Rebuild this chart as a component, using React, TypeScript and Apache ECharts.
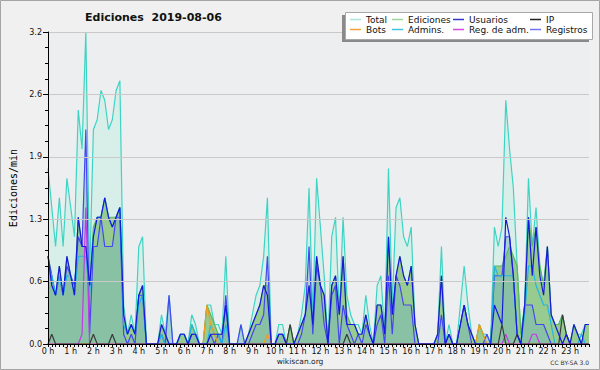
import React, { useEffect, useRef } from 'react';
import * as echarts from 'echarts';

// ---- tick labels ----
const HOUR_LABELS = ['0 h','1 h','2 h','3 h','4 h','5 h','6 h','7 h','8 h','9 h','10 h','11 h','12 h','13 h','14 h','15 h','16 h','17 h','18 h','19 h','20 h','21 h','22 h','23 h'];
const Y_MAX = 3.2;
const Y_STEP = 0.64;

// ---- series values (edits / min, one value per 10 minutes, 6 per hour) ----
const TOTAL = [
  1.8, 1.4, 1.0, 1.5, 1.0, 1.7,
  1.4, 1.1, 2.4, 2.0, 3.2, 0.7,
  2.2, 2.3, 2.6, 2.5, 2.2, 2.3,
  2.6, 2.7, 0.4, 0.1, 0.3, 0.1,
  1.0, 1.1, 0, 0, 0, 0,
  0.3, 0.1, 0.5, 0, 0, 0.1,
  0.1, 0, 0.3, 0.2, 0, 0,
  0.4, 0.4, 0.2, 0.2, 0.1, 0.9,
  0, 0, 0, 0.2, 0, 0.1,
  0.3, 0.5, 0.6, 0.9, 1.5, 0,
  0, 0.2, 0.2, 0, 0.2, 0,
  0.1, 0.3, 0.6, 1.6, 0.3, 1.7,
  1.2, 0.7, 0, 1.1, 1.3, 0.3,
  1.3, 0.5, 0.3, 0.2, 0.2, 0.1,
  0.5, 0.2, 0, 0.6, 0.7, 0.1,
  1.8, 0.4, 1.4, 1.5, 1.1, 1.0,
  1.2, 0.2, 0, 0, 0, 0,
  0, 0.1, 1.0, 0, 0.2, 0,
  0, 0.4, 0.8, 0.4, 0.1, 0,
  0.2, 0.1, 0.1, 0, 1.2, 1.0,
  1.2, 2.5, 2.0, 1.6, 0.8, 0.1,
  0.4, 1.7, 1.0, 1.4, 0.8, 0.6,
  1.0, 0.3, 0.2, 0.2, 0.3, 0.1,
  0, 0.2, 0.1, 0.1, 0.2, 0.2,
];

const EDICIONES = [
  0.9, 0.7, 0.5, 0.8, 0.5, 0.9,
  0.7, 0.5, 1.3, 1.0, 1.0, 0.6,
  1.2, 1.3, 1.3, 1.5, 1.3, 1.3,
  1.3, 1.4, 0.3, 0.1, 0.2, 0.1,
  0.5, 0.6, 0, 0, 0, 0,
  0.2, 0.1, 0, 0, 0, 0.1,
  0.1, 0, 0.2, 0.1, 0, 0,
  0.4, 0.3, 0.2, 0.1, 0.1, 0.4,
  0, 0, 0, 0, 0, 0.1,
  0.2, 0.3, 0.4, 0.6, 0.6, 0,
  0, 0.1, 0.1, 0, 0.2, 0,
  0.1, 0.2, 0.3, 0.6, 0.2, 0.9,
  0.6, 0.5, 0, 0.6, 0.7, 0.3,
  0.9, 0.3, 0.2, 0.2, 0.1, 0.1,
  0.3, 0.1, 0, 0.4, 0.4, 0.1,
  1.1, 0.3, 0.7, 0.9, 0.7, 0.6,
  0.8, 0.2, 0, 0, 0, 0,
  0, 0.1, 0.7, 0, 0.1, 0,
  0, 0.2, 0.4, 0.2, 0.1, 0,
  0.2, 0.1, 0, 0, 0.8, 0.8,
  0.8, 0.9, 1.0, 0.9, 0.8, 0.1,
  0.4, 1.3, 1.0, 1.2, 0.8, 0.6,
  1.0, 0.3, 0.2, 0.2, 0.3, 0.1,
  0, 0.2, 0.1, 0, 0.2, 0.2,
];

const USUARIOS = [
  0.9, 0.6, 0.5, 0.8, 0.5, 0.9,
  0.7, 0.5, 1.3, 1.0, 1.0, 0.6,
  1.1, 1.3, 1.3, 1.5, 1.3, 1.2,
  1.3, 1.4, 0.3, 0.1, 0.2, 0.1,
  0.5, 0.6, 0, 0, 0, 0,
  0.2, 0.1, 0, 0, 0, 0.1,
  0.1, 0, 0.1, 0.1, 0, 0,
  0, 0.1, 0.1, 0.1, 0.1, 0.4,
  0, 0, 0, 0, 0, 0.1,
  0.2, 0.3, 0.4, 0.6, 0.5, 0,
  0, 0.1, 0.1, 0, 0, 0,
  0.1, 0.2, 0.3, 0.6, 0.2, 0.9,
  0.6, 0.5, 0, 0.6, 0.7, 0.3,
  0.9, 0.2, 0.2, 0.2, 0.1, 0.1,
  0.3, 0.1, 0, 0.4, 0.4, 0.1,
  1.1, 0.3, 0.7, 0.9, 0.7, 0.6,
  0.8, 0.2, 0, 0, 0, 0,
  0, 0.1, 0.7, 0, 0.1, 0,
  0, 0.2, 0.4, 0.2, 0.1, 0,
  0, 0, 0, 0, 0.4, 0.3,
  0.2, 1.3, 1.1, 0.7, 0.1, 0,
  0.4, 1.3, 0.7, 1.2, 0.7, 0.5,
  1.0, 0.3, 0.2, 0.1, 0, 0.1,
  0, 0.2, 0.1, 0, 0.2, 0.2,
];

const REGISTROS = [
  0.9, 0.7, 0.5, 0.7, 0.5, 0.8,
  0.7, 0.6, 1.1, 1.0, 2.2, 0.1,
  1.0, 1.0, 1.3, 1.0, 1.0, 1.0,
  1.3, 1.3, 0.1, 0, 0.1, 0,
  0.5, 0.5, 0, 0, 0, 0,
  0.1, 0, 0.5, 0, 0, 0,
  0, 0, 0.1, 0.1, 0, 0,
  0, 0.1, 0, 0.1, 0, 0.5,
  0, 0, 0, 0.2, 0, 0,
  0.1, 0.2, 0.2, 0.3, 0.9, 0,
  0, 0.1, 0.1, 0, 0, 0,
  0, 0.1, 0.3, 1.0, 0.1, 0.8,
  0.6, 0.2, 0, 0.5, 0.6, 0,
  0.4, 0.2, 0.1, 0, 0.1, 0,
  0.2, 0.1, 0, 0.2, 0.3, 0,
  0.7, 0.1, 0.7, 0.6, 0.4, 0.4,
  0.4, 0, 0, 0, 0, 0,
  0, 0, 0.3, 0, 0.1, 0,
  0, 0.2, 0.4, 0.2, 0, 0,
  0, 0, 0.1, 0, 0.7, 0.7,
  0.7, 1.1, 1.1, 0.7, 0.1, 0,
  0.4, 0.4, 0.4, 0.2, 0.2, 0.2,
  0.1, 0, 0, 0, 0, 0,
  0, 0, 0, 0, 0, 0,
];

const ADMINS = [
  0.8, 0.7, 0.5, 0.7, 0.5, 0.7,
  0.7, 0.5, 0.9, 0.9, 0.9, 0.5,
  1.1, 1.3, 1.3, 1.5, 1.3, 1.2,
  1.3, 1.4, 0.2, 0.1, 0.2, 0.1,
  0.4, 0.5, 0, 0, 0, 0,
  0.1, 0, 0, 0, 0, 0.1,
  0.1, 0, 0.2, 0.1, 0, 0,
  0, 0.2, 0.1, 0.1, 0, 0.2,
  0, 0, 0, 0, 0, 0,
  0, 0, 0, 0, 0, 0,
  0, 0, 0, 0, 0, 0,
  0, 0, 0, 0, 0, 0,
  0, 0, 0, 0, 0, 0,
  0, 0, 0, 0, 0, 0,
  0, 0, 0, 0, 0, 0,
  0, 0, 0, 0, 0, 0,
  0, 0, 0, 0, 0, 0,
  0, 0, 0, 0, 0, 0,
  0, 0, 0, 0, 0, 0,
  0, 0, 0, 0, 0.8, 0.7,
  0.7, 0.7, 0.7, 0.7, 0.1, 0,
  0.3, 0.8, 0.8, 0.6, 0.5, 0.4,
  0.4, 0.2, 0, 0, 0, 0,
  0, 0, 0, 0.1, 0, 0,
];

const BOTS = [
  0, 0, 0, 0, 0, 0,  0, 0, 0, 0, 0, 0,  0, 0, 0, 0, 0, 0,  0, 0, 0, 0, 0, 0,
  0, 0, 0, 0, 0, 0,  0, 0, 0, 0, 0, 0,  0, 0, 0, 0, 0, 0,  0.4, 0.2, 0.1, 0, 0, 0,
  0, 0, 0, 0, 0, 0,  0, 0, 0, 0, 0.1, 0,  0, 0, 0, 0, 0, 0,  0, 0, 0, 0, 0, 0,
  0, 0, 0, 0, 0, 0,  0, 0, 0, 0, 0, 0,  0, 0, 0, 0, 0, 0,  0, 0, 0, 0, 0, 0,
  0, 0, 0, 0, 0, 0,  0, 0, 0, 0, 0, 0,  0, 0, 0, 0, 0, 0,  0.2, 0.1, 0, 0, 0, 0,
  0, 0, 0, 0, 0, 0,  0, 0, 0, 0, 0, 0,  0, 0, 0, 0, 0, 0,  0, 0, 0, 0, 0, 0,
];

const REG_ADM = [
  0, 0, 0, 0, 0, 0,  0, 0, 0, 0.1, 1.4, 0,  0, 0, 0, 0, 0, 0,  0, 0, 0, 0, 0, 0,
  0, 0, 0, 0, 0, 0,  0, 0, 0, 0, 0, 0,  0, 0, 0, 0, 0, 0,  0, 0, 0, 0, 0, 0,
  0, 0, 0, 0, 0, 0,  0, 0, 0, 0, 0, 0,  0, 0, 0, 0, 0, 0,  0, 0, 0, 0, 0, 0,
  0, 0, 0, 0, 0, 0,  0, 0, 0, 0, 0, 0,  0, 0, 0, 0, 0, 0,  0, 0, 0, 0, 0, 0,
  0, 0, 0, 0, 0, 0,  0, 0, 0, 0, 0, 0,  0, 0, 0, 0, 0, 0,  0, 0, 0, 0, 0, 0,
  0, 0.1, 0, 0, 0, 0,  0, 0, 0.1, 0.1, 0, 0,  0, 0, 0, 0, 0, 0,  0, 0, 0, 0, 0, 0,
];

const IP = [
  0, 0.1, 0, 0, 0, 0,  0, 0, 0, 0, 0, 0,  0.1, 0, 0, 0, 0, 0.1,  0, 0, 0, 0, 0, 0,
  0, 0, 0, 0, 0, 0,  0, 0, 0, 0, 0, 0,  0, 0, 0, 0, 0, 0,  0, 0, 0, 0, 0, 0,
  0, 0, 0, 0, 0, 0,  0, 0, 0, 0, 0, 0,  0, 0, 0, 0, 0.2, 0,  0, 0, 0, 0, 0, 0,
  0, 0, 0, 0, 0, 0,  0, 0.1, 0, 0, 0, 0,  0, 0, 0, 0, 0, 0,  0, 0, 0, 0, 0, 0,
  0, 0, 0, 0, 0, 0,  0, 0, 0, 0, 0, 0,  0, 0, 0, 0, 0, 0,  0, 0, 0, 0, 0, 0,
  0.2, 0, 0, 0, 0.1, 0,  0, 0, 0, 0, 0, 0,  0, 0, 0, 0, 0.3, 0.1,  0, 0, 0, 0, 0, 0,
];

// ---- legend ----
const LEGEND_NAMES = ['Total', 'Ediciones', 'Usuarios', 'IP', 'Bots', 'Admins.', 'Reg. de adm.', 'Registros'];
const LEGEND_COLORS = ['#a6e6dc', '#9ad69a', '#3434d2', '#222222', '#f2a23c', '#3fc6e2', '#d24ae2', '#7474f0'];

const TITLE = 'Ediciones  2019-08-06';
const Y_NAME = 'Ediciones/min';
const SITE = 'wikiscan.org';
const LICENSE = 'CC BY-SA 3.0';

const SLOTS = TOTAL.map((_, i) => `${Math.floor(i / 6)}:${i % 6}0`);

function lineSeries(name: string, data: number[], color: string, area?: string) {
  const s: any = {
    type: 'line',
    name,
    data,
    symbol: 'none',
    silent: true,
    lineStyle: { color, width: 1.2 },
    itemStyle: { color },
  };
  if (area) s.areaStyle = { color: area, opacity: 1 };
  return s;
}

export default function App() {
  const ref = useRef<HTMLDivElement>(null);
  useEffect(() => {
    if (!ref.current) return;
    const chart = echarts.init(ref.current, undefined, { renderer: 'svg' });

    const legendCols = [350, 392, 453, 530];
    const legendRows = [19.5, 29.5];
    const legendItems: any[] = [];
    LEGEND_NAMES.forEach((n, k) => {
      const cx = legendCols[k % 4];
      const cy = legendRows[Math.floor(k / 4)];
      legendItems.push({
        type: 'line',
        shape: { x1: cx, y1: cy, x2: cx + 11, y2: cy },
        style: { stroke: LEGEND_COLORS[k], lineWidth: 1.5 },
        z: 101,
      });
      legendItems.push({
        type: 'text',
        x: cx + 16,
        y: cy,
        style: { text: n, fill: '#111', fontSize: 9, fontFamily: 'DejaVu Sans', verticalAlign: 'middle', align: 'left' },
        z: 101,
      });
    });

    chart.setOption({
      animation: false,
      backgroundColor: '#f0f0f0',
      grid: { left: 46, right: 11, top: 32, bottom: 26, show: true, backgroundColor: '#eceef0', borderWidth: 0 },
      xAxis: {
        type: 'category',
        data: SLOTS,
        boundaryGap: false,
        z: 10,
        axisLine: { lineStyle: { color: '#000', width: 1 } },
        axisTick: { show: true, interval: 0, length: 3, lineStyle: { color: '#000' } },
        axisLabel: {
          interval: 5,
          margin: 3,
          color: '#111',
          fontSize: 8,
          fontFamily: 'DejaVu Sans',
          formatter: (_v: string, idx: number) => HOUR_LABELS[Math.floor(idx / 6)] ?? '',
        },
        splitLine: { show: false },
      },
      yAxis: {
        type: 'value',
        min: 0,
        max: Y_MAX,
        interval: Y_STEP,
        z: 10,
        axisLine: { show: true, lineStyle: { color: '#000', width: 1 } },
        axisTick: { show: true, length: 5, lineStyle: { color: '#000' } },
        minorTick: { show: true, splitNumber: 4, length: 3, lineStyle: { color: '#000' } },
        splitLine: { show: true, lineStyle: { color: '#c9c9c9', width: 1 } },
        axisLabel: {
          margin: 6,
          color: '#111',
          fontSize: 8,
          fontFamily: 'DejaVu Sans',
          formatter: (v: number) => v.toFixed(1),
        },
        name: Y_NAME,
        nameLocation: 'middle',
        nameGap: 30,
        nameTextStyle: { fontFamily: 'DejaVu Sans Mono', fontSize: 10, color: '#000' },
      },
      series: [
        lineSeries('Total', TOTAL, '#3ed4c4', 'rgba(165,243,215,0.3)'),
        lineSeries('Ediciones', EDICIONES, '#5cb85c', 'rgba(109,179,84,0.6)'),
        lineSeries('Registros', REGISTROS, '#4646f0', 'rgba(124,184,188,0.5)'),
        lineSeries('Admins.', ADMINS, '#1fb6e6'),
        lineSeries('Bots', BOTS, '#f29b1c'),
        lineSeries('Reg. de adm.', REG_ADM, '#c23be6'),
        lineSeries('IP', IP, '#3a3a3a'),
        lineSeries('Usuarios', USUARIOS, '#1717e0'),
      ],
      graphic: [
        {
          type: 'rect',
          shape: { x: 0.5, y: 0.5, width: 599, height: 369 },
          style: { fill: 'none', stroke: '#a4a4a4', lineWidth: 1 },
          z: 100,
          silent: true,
        },
        {
          type: 'text',
          x: 85,
          y: 17,
          style: { text: TITLE, fill: '#111', fontSize: 11, fontWeight: 'bold', fontFamily: 'DejaVu Sans', verticalAlign: 'middle', align: 'left' },
          z: 100,
        },
        {
          type: 'rect',
          shape: { x: 342, y: 15, width: 247, height: 27 },
          style: { fill: '#8a8a8a' },
          z: 100,
        },
        {
          type: 'rect',
          shape: { x: 345.5, y: 12.5, width: 247, height: 27 },
          style: { fill: '#ffffff', stroke: '#a8a8a8', lineWidth: 1 },
          z: 100,
        },
        ...legendItems,
        {
          type: 'text',
          x: 300,
          y: 361,
          style: { text: SITE, fill: '#222', fontSize: 7.5, fontFamily: 'DejaVu Sans', align: 'center', verticalAlign: 'middle' },
          z: 100,
        },
        {
          type: 'text',
          x: 589,
          y: 362,
          style: { text: LICENSE, fill: '#333', fontSize: 6, fontFamily: 'DejaVu Sans', align: 'right', verticalAlign: 'middle' },
          z: 100,
        },
      ],
    });
    return () => chart.dispose();
  }, []);
  return <div ref={ref} style={{ position: 'fixed', left: 0, top: 0, width: 600, height: 370 }} />;
}
